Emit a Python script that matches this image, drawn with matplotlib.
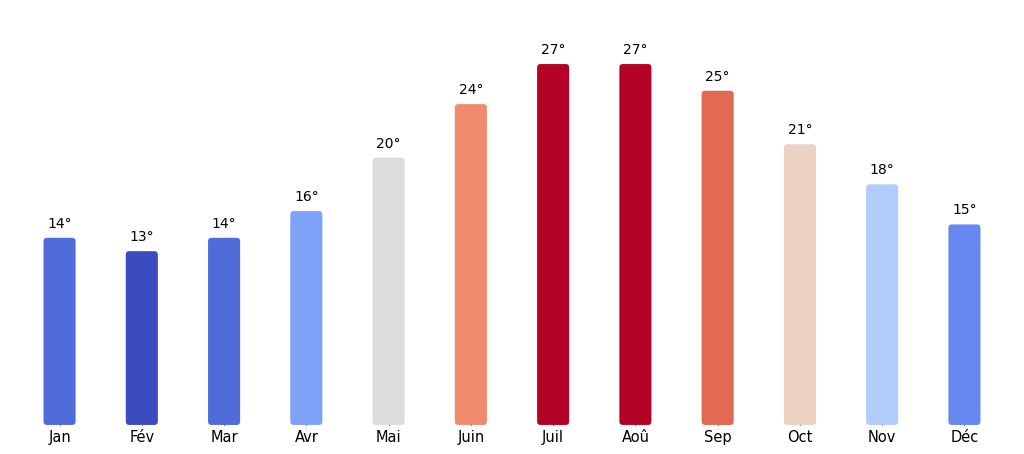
import matplotlib
matplotlib.use("Agg")
import matplotlib.pyplot as plt
from matplotlib.patches import FancyBboxPatch
import numpy as np

months = ["Jan", "Fév", "Mar", "Avr", "Mai", "Juin", "Juil", "Aoû", "Sep", "Oct", "Nov", "Déc"]
temps = [14, 13, 14, 16, 20, 24, 27, 27, 25, 21, 18, 15]

fig = plt.figure(figsize=(10.24, 4.54), dpi=100)
ax = fig.add_axes([0.018, 0.064, 0.964, 0.88])

cmap = plt.get_cmap("coolwarm")
norm = plt.Normalize(min(temps), max(temps))
x = np.arange(len(months))
width = 0.39
bars = ax.bar(x, temps, width=width, color=[cmap(norm(t)) for t in temps])

ax.set_xlim(-0.5, len(months) - 0.5)
ax.set_ylim(0, max(temps) * 1.107)

# Replace rectangles by slightly rounded boxes
fig.canvas.draw()
px_x = ax.transData.transform((1, 0))[0] - ax.transData.transform((0, 0))[0]
px_y = ax.transData.transform((0, 1))[1] - ax.transData.transform((0, 0))[1]
r = 3.5 / px_x
aspect = px_x / px_y
for b in bars:
    b.set_visible(False)
    p = FancyBboxPatch((b.get_x(), b.get_y()), b.get_width(), b.get_height(),
                       boxstyle=f"round,pad=0,rounding_size={r}",
                       mutation_aspect=aspect,
                       facecolor=b.get_facecolor(), edgecolor="none", zorder=2)
    ax.add_patch(p)

for xi, t in zip(x, temps):
    ax.annotate(f"{t}°", (xi, t), xytext=(0, 5), textcoords="offset points",
                ha="center", va="bottom", fontsize=10)

ax.set_xticks(x)
ax.set_xticklabels(months, fontsize=10.5)
ax.set_yticks([])
ax.tick_params(axis="x", direction="in", length=3, width=0.8, pad=4)
for s in ax.spines.values():
    s.set_visible(False)

fig.savefig("out.png", dpi=100)
